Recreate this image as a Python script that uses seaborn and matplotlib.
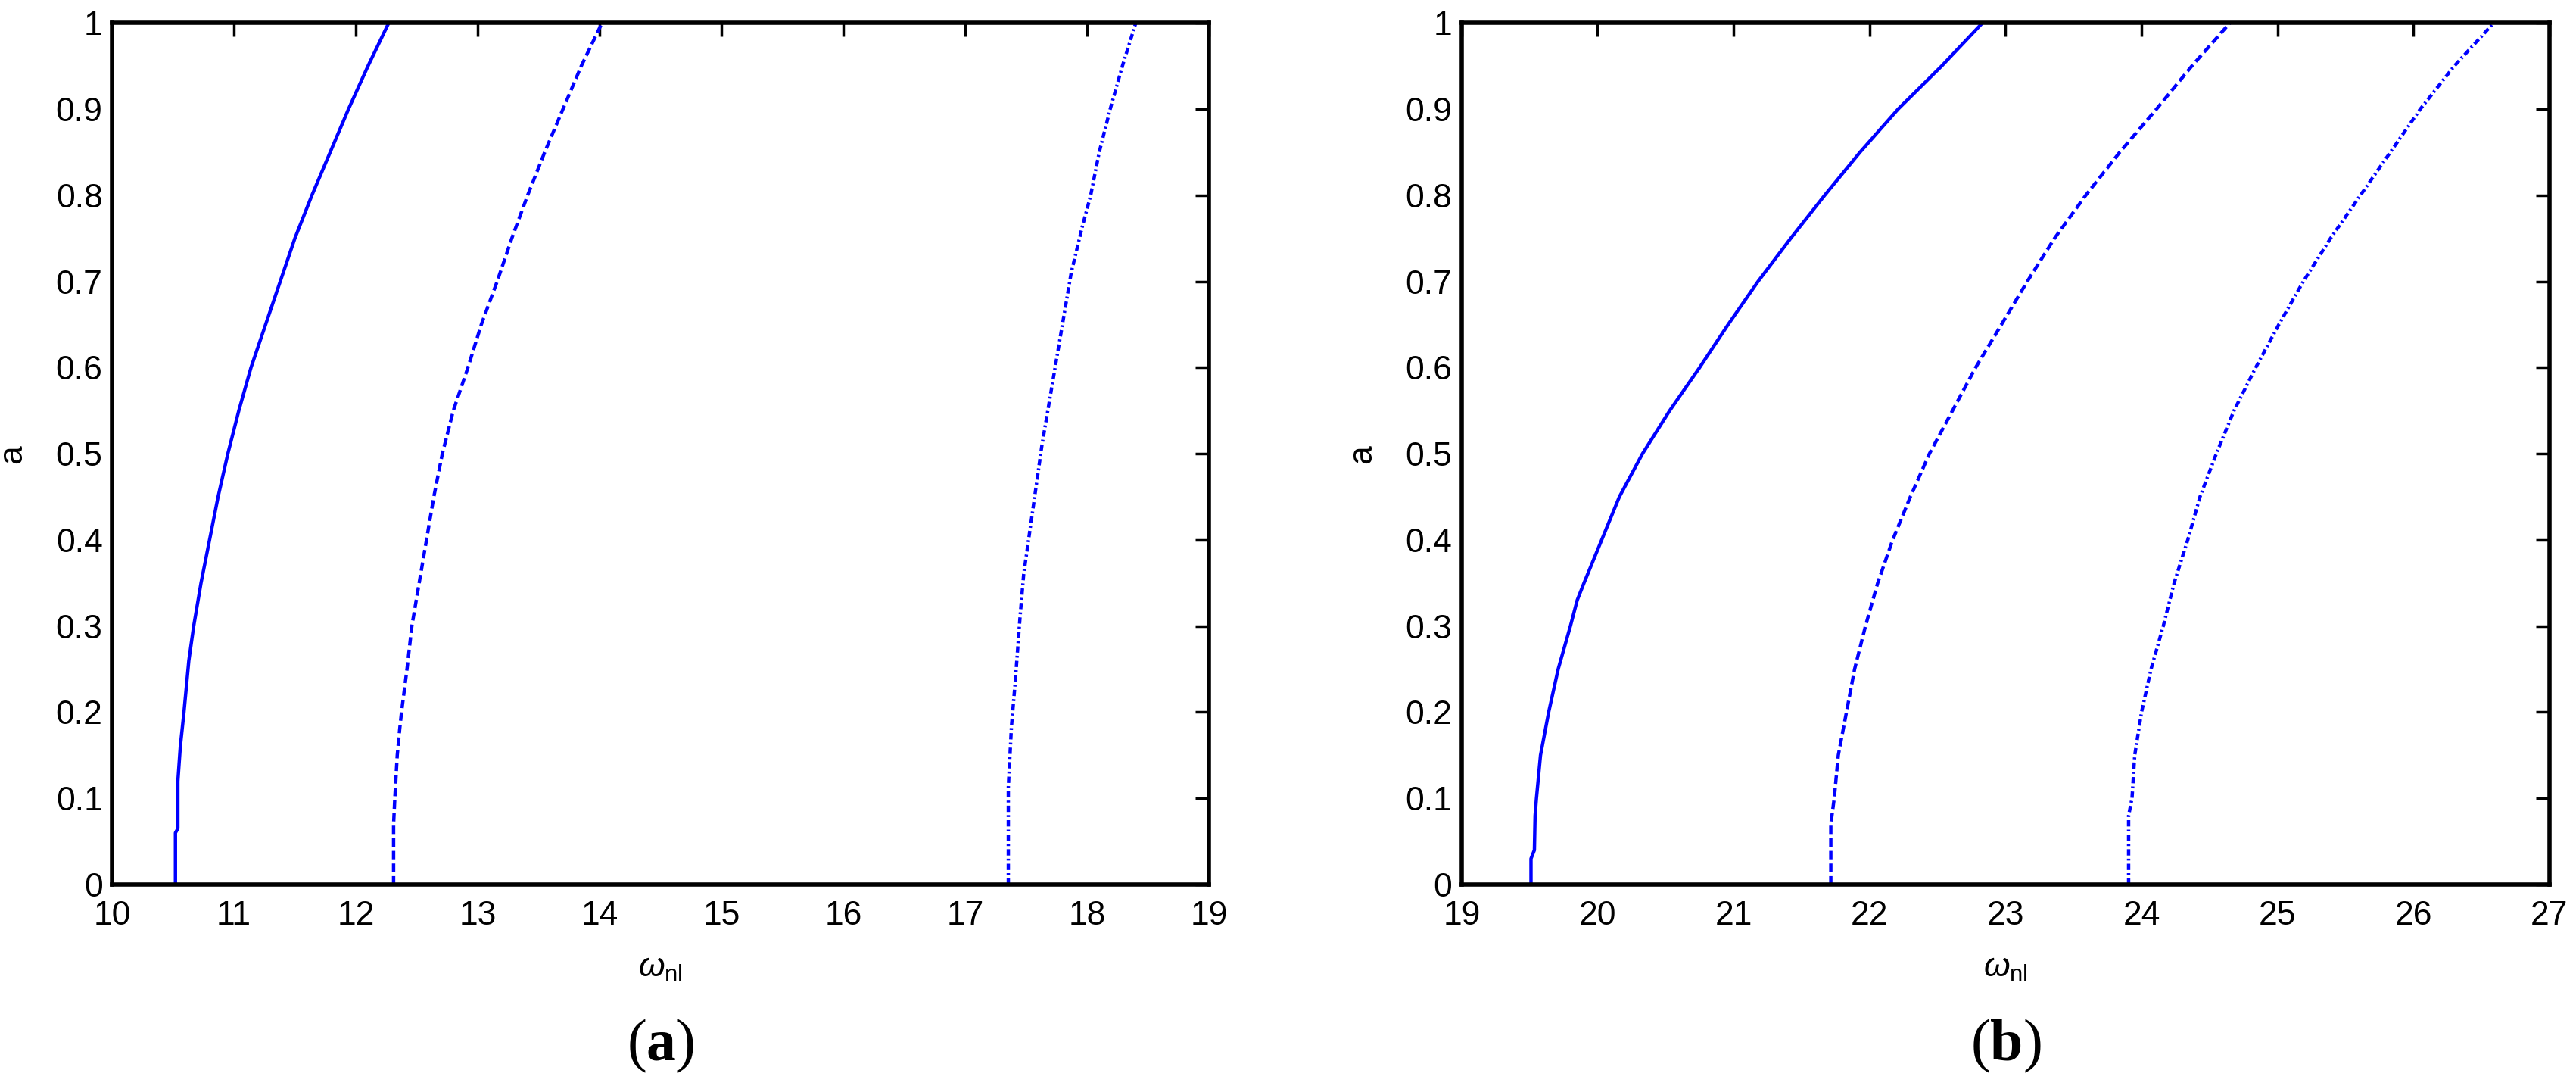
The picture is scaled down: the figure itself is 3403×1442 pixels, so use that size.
import numpy as np
import pandas as pd
import seaborn as sns
import matplotlib.pyplot as plt
from matplotlib.ticker import FuncFormatter

# backbone curves: amplitude a vs. omega_nl
a1_amp = [0, 0.06, 0.065, 0.12, 0.16, 0.2, 0.23, 0.26, 0.3, 0.35, 0.4, 0.45, 0.5, 0.55,
          0.6, 0.65, 0.7, 0.75, 0.8, 0.85, 0.9, 0.95, 1.0]
a1_w = [10.52, 10.52, 10.54, 10.54, 10.56, 10.59, 10.61, 10.63, 10.67, 10.73, 10.80, 10.87,
        10.95, 11.04, 11.14, 11.26, 11.38, 11.50, 11.64, 11.79, 11.94, 12.10, 12.27]

a2_amp = [0, 0.07, 0.1, 0.15, 0.18, 0.2, 0.25, 0.3, 0.35, 0.4, 0.45, 0.5, 0.55,
          0.6, 0.65, 0.7, 0.75, 0.8, 0.85, 0.9, 0.95, 1.0]
a2_w = [12.31, 12.31, 12.32, 12.34, 12.36, 12.375, 12.42, 12.46, 12.52, 12.58, 12.64, 12.71,
        12.80, 12.92, 13.03, 13.16, 13.28, 13.41, 13.55, 13.70, 13.85, 14.02]

a3_amp = [0, 0.113, 0.184, 0.234, 0.31, 0.36, 0.41, 0.46, 0.51, 0.56, 0.61, 0.66, 0.71,
          0.763, 0.8, 0.85, 0.9, 0.95, 1.0]
a3_w = [17.354, 17.354, 17.38, 17.41, 17.45, 17.48, 17.53, 17.58, 17.63, 17.69, 17.75, 17.81,
        17.87, 17.96, 18.03, 18.10, 18.19, 18.29, 18.40]

b1_amp = [0, 0.03, 0.04, 0.08, 0.1, 0.15, 0.2, 0.25, 0.3, 0.33, 0.35, 0.4, 0.45, 0.5, 0.55,
          0.6, 0.65, 0.7, 0.75, 0.8, 0.85, 0.9, 0.95, 1.0]
b1_w = [19.51, 19.51, 19.535, 19.54, 19.55, 19.58, 19.64, 19.71, 19.80, 19.85, 19.90, 20.03,
        20.16, 20.33, 20.53, 20.75, 20.96, 21.18, 21.42, 21.67, 21.93, 22.21, 22.53, 22.83]

b2_amp = [0, 0.07, 0.1, 0.15, 0.2, 0.25, 0.3, 0.35, 0.4, 0.45, 0.5, 0.55,
          0.6, 0.65, 0.7, 0.75, 0.8, 0.85, 0.9, 0.95, 1.0]
b2_w = [21.715, 21.715, 21.74, 21.77, 21.83, 21.89, 21.97, 22.06, 22.17, 22.30, 22.44, 22.61,
        22.78, 22.97, 23.16, 23.36, 23.59, 23.84, 24.11, 24.37, 24.65]

b3_amp = [0, 0.08, 0.1, 0.15, 0.2, 0.25, 0.3, 0.35, 0.4, 0.45, 0.5, 0.55,
          0.6, 0.65, 0.7, 0.75, 0.8, 0.85, 0.9, 0.95, 1.0]
b3_w = [23.905, 23.905, 23.93, 23.95, 24.00, 24.07, 24.16, 24.24, 24.34, 24.43, 24.55, 24.68,
        24.84, 25.01, 25.19, 25.39, 25.61, 25.83, 26.05, 26.30, 26.59]

panels = [
    ([(a1_w, a1_amp), (a2_w, a2_amp), (a3_w, a3_amp)], (10, 19), 'a'),
    ([(b1_w, b1_amp), (b2_w, b2_amp), (b3_w, b3_amp)], (19, 27), 'b'),
]
styles = ['-', (0, (8, 4)), (0, (6, 3, 1.8, 3))]

sns.set_style('white')
plt.rcParams['font.family'] = ['Liberation Sans', 'DejaVu Sans']
plt.rcParams['text.color'] = 'black'
plt.rcParams['axes.labelcolor'] = 'black'
plt.rcParams['lines.scale_dashes'] = False
plt.rcParams['mathtext.fontset'] = 'custom'
plt.rcParams['mathtext.rm'] = 'Liberation Sans'
plt.rcParams['mathtext.it'] = 'Liberation Sans:italic'
plt.rcParams['mathtext.bf'] = 'Liberation Serif:bold'

fig = plt.figure(figsize=(34.03, 14.42), dpi=100)
axes = [fig.add_axes([0.0435, 0.19, 0.4258, 0.789]),
        fig.add_axes([0.5674, 0.19, 0.4223, 0.789])]

for ax, (curves, xlim, tag) in zip(axes, panels):
    for (w, amp), ls in zip(curves, styles):
        df = pd.DataFrame({'omega': w, 'a': amp})
        sns.lineplot(data=df, x='omega', y='a', sort=False, estimator=None,
                     color='#0000ff', linewidth=3.2, linestyle=ls, ax=ax)
    ax.set_xlim(*xlim)
    ax.set_ylim(0, 1)
    ax.set_xticks(np.arange(xlim[0], xlim[1] + 1))
    ax.set_yticks(np.round(np.arange(0, 1.01, 0.1), 1))
    ax.yaxis.set_major_formatter(FuncFormatter(lambda v, p: '%g' % v))
    ax.tick_params(direction='in', length=13, width=2.5, labelsize=32,
                   top=True, right=True, colors='black')
    ax.tick_params(axis='x', pad=15)
    ax.tick_params(axis='y', pad=9)
    for s in ax.spines.values():
        s.set_visible(True)
        s.set_color('black')
        s.set_linewidth(4)
    ax.set_xlabel(r'$\omega_{\mathrm{nl}}$', fontsize=32, labelpad=20, color='black')
    ax.set_ylabel('a', fontsize=32, labelpad=26, color='black')
    pos = ax.get_position()
    fig.text((pos.x0 + pos.x1) / 2, 0.042, '(' + r'$\mathbf{' + tag + '}$' + ')',
             ha='center', va='center', fontsize=56, family='Liberation Serif', color='black')

fig.savefig('out.png', dpi=100, facecolor='white')
